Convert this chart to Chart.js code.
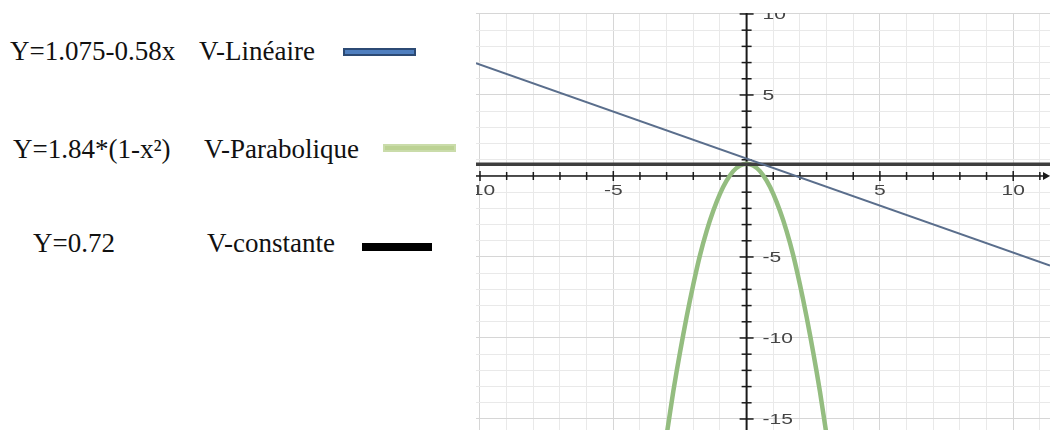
<!DOCTYPE html>
<html lang="fr">
<head>
<meta charset="utf-8">
<title>Profils de vitesse</title>
<script src="https://cdn.jsdelivr.net/npm/chart.js@4.4.1/dist/chart.umd.min.js"></script>
<style>
  html, body { margin: 0; padding: 0; background: #fff; }
  body { width: 1050px; height: 430px; position: relative; overflow: hidden; }
  .eq, .name {
    position: absolute;
    font-family: "Liberation Serif", "DejaVu Serif", serif;
    font-size: 27px;
    color: #111;
    line-height: 1;
    white-space: nowrap;
  }
  .swatch { position: absolute; box-sizing: border-box; }
  #plot { position: absolute; left: 476px; top: 13px; width: 574px; height: 417px; }
</style>
</head>
<body>
<div id="legend"></div>
<div id="plot"><canvas id="chart" width="574" height="417"></canvas></div>

<script>
  // Axis window
  const xMin = -10.15, xMax = 11.38;
  const yMin = -15.68, yMax = 10.06;
  const xLabelValues = [-10, -5, 5, 10];
  const yLabelValues = [10, 5, -5, -10, -15];

  // Series
  const seriesNames = ['V-Linéaire', 'V-Parabolique', 'V-constante'];
  const seriesFormulas = ['Y=1.075-0.58x', 'Y=1.84*(1-x²)', 'Y=0.72'];

  const lineX = [-10.15, 11.38];
  const lineY = [6.96, -5.53];

  const paraX = [-3.05, -3.0, -2.75, -2.5, -2.25, -2.0, -1.75, -1.5, -1.25, -1.0, -0.75, -0.5, -0.25, 0,
                 0.25, 0.5, 0.75, 1.0, 1.25, 1.5, 1.75, 2.0, 2.25, 2.5, 2.75, 3.0, 3.05];
  const paraY = [-16.5, -16.0, -13.3, -10.9, -8.7, -6.7, -4.9, -3.4, -2.15, -1.1, -0.29, 0.3, 0.64, 0.76,
                 0.64, 0.3, -0.29, -1.1, -2.15, -3.4, -4.9, -6.7, -8.7, -10.9, -13.3, -16.0, -16.5];

  const constX = [-10.15, 11.38];
  const constY = [0.72, 0.72];

  const toPoints = (xs, ys) => xs.map((x, i) => ({ x: x, y: ys[i] }));

  // Left-hand legend (formula, name, colour swatch)
  const legendRows = [
    { eqLeft: 10, nameLeft: 199, top: 38, sw: { l: 343, t: 48, w: 73, h: 8, bg: '#4f7fbf', bd: '2px solid #2c4a74' } },
    { eqLeft: 13, nameLeft: 204, top: 136, sw: { l: 383, t: 144, w: 73, h: 8, bg: '#bcd294', bd: '2px solid #cadcaa' } },
    { eqLeft: 33, nameLeft: 207, top: 230, sw: { l: 362, t: 243, w: 70, h: 8, bg: '#000', bd: 'none' } }
  ];

  const legend = document.getElementById('legend');
  legendRows.forEach((row, i) => {
    const eq = document.createElement('div');
    eq.className = 'eq';
    eq.style.left = row.eqLeft + 'px';
    eq.style.top = row.top + 'px';
    eq.textContent = seriesFormulas[i];
    legend.appendChild(eq);

    const name = document.createElement('div');
    name.className = 'name';
    name.style.left = row.nameLeft + 'px';
    name.style.top = row.top + 'px';
    name.textContent = seriesNames[i];
    legend.appendChild(name);

    const sw = document.createElement('div');
    sw.className = 'swatch';
    sw.style.left = row.sw.l + 'px';
    sw.style.top = row.sw.t + 'px';
    sw.style.width = row.sw.w + 'px';
    sw.style.height = row.sw.h + 'px';
    sw.style.background = row.sw.bg;
    sw.style.border = row.sw.bd;
    legend.appendChild(sw);
  });

  // text stretched horizontally, like the rest of the plot
  function wideText(ctx, text, px, py) {
    ctx.save();
    ctx.translate(px, py);
    ctx.scale(1.5, 1);
    ctx.fillText(text, 0, 0);
    ctx.restore();
  }

  // Cartesian axes through the origin, with ticks and labels
  const centerAxes = {
    id: 'centerAxes',
    beforeDatasetsDraw(chart) {
      const { ctx, chartArea: a, scales: { x, y } } = chart;
      const ox = x.getPixelForValue(0);
      const oy = y.getPixelForValue(0);

      ctx.save();
      ctx.beginPath();
      ctx.rect(a.left, a.top, a.right - a.left, a.bottom - a.top);
      ctx.clip();

      ctx.strokeStyle = '#1a1a1a';
      ctx.fillStyle = '#1a1a1a';

      // horizontal axis
      ctx.lineWidth = 1.5;
      ctx.beginPath();
      ctx.moveTo(a.left, oy);
      ctx.lineTo(a.right - 2, oy);
      ctx.stroke();
      ctx.beginPath();
      ctx.moveTo(a.right, oy);
      ctx.lineTo(a.right - 7, oy - 4);
      ctx.lineTo(a.right - 7, oy + 4);
      ctx.closePath();
      ctx.fill();

      x.ticks.forEach(t => {
        if (t.value === 0) return;
        const px = x.getPixelForValue(t.value);
        const len = t.value % 5 === 0 ? 5 : 4;
        ctx.lineWidth = 1.5;
        ctx.beginPath();
        ctx.moveTo(px, oy - len);
        ctx.lineTo(px, oy + len);
        ctx.stroke();
      });

      // vertical axis
      ctx.lineWidth = 2;
      ctx.beginPath();
      ctx.moveTo(ox, a.top);
      ctx.lineTo(ox, a.bottom);
      ctx.stroke();

      y.ticks.forEach(t => {
        if (t.value === 0) return;
        const py = y.getPixelForValue(t.value);
        const len = t.value % 5 === 0 ? 7 : 5;
        ctx.lineWidth = 1.5;
        ctx.beginPath();
        ctx.moveTo(ox - len, py);
        ctx.lineTo(ox + len, py);
        ctx.stroke();
      });

      // labels
      ctx.font = '14px "Liberation Sans", Arial, sans-serif';
      ctx.fillStyle = '#444';
      ctx.textAlign = 'center';
      ctx.textBaseline = 'middle';
      xLabelValues.forEach(v => {
        wideText(ctx, String(v), x.getPixelForValue(v), oy + 15);
      });
      ctx.textAlign = 'left';
      yLabelValues.forEach(v => {
        wideText(ctx, String(v), ox + 16, y.getPixelForValue(v) + 1);
      });

      ctx.restore();
    }
  };

  const gridColor = c => (c.tick && c.tick.value % 5 === 0) ? '#d6d6d6' : '#e9e9e9';

  new Chart(document.getElementById('chart'), {
    type: 'scatter',
    data: {
      datasets: [
        {
          label: seriesNames[0],
          data: toPoints(lineX, lineY),
          showLine: true,
          borderColor: '#5a6e8c',
          borderWidth: 2,
          pointRadius: 0
        },
        {
          label: seriesNames[2],
          data: toPoints(constX, constY),
          showLine: true,
          borderColor: '#3e3e3e',
          borderWidth: 3.5,
          pointRadius: 0
        },
        {
          label: seriesNames[1],
          data: toPoints(paraX, paraY),
          showLine: true,
          tension: 0.3,
          borderColor: '#94bd80',
          borderWidth: 4.5,
          pointRadius: 0
        }
      ]
    },
    options: {
      responsive: false,
      animation: false,
      devicePixelRatio: 1,
      layout: { padding: 0 },
      plugins: {
        legend: { display: false },
        tooltip: { enabled: false }
      },
      scales: {
        x: {
          type: 'linear',
          min: xMin,
          max: xMax,
          ticks: { stepSize: 1, includeBounds: false, display: false },
          grid: { color: gridColor, drawTicks: false, lineWidth: 1 },
          border: { display: false }
        },
        y: {
          type: 'linear',
          min: yMin,
          max: yMax,
          ticks: { stepSize: 1, includeBounds: false, display: false },
          grid: { color: gridColor, drawTicks: false, lineWidth: 1 },
          border: { display: false }
        }
      }
    },
    plugins: [centerAxes]
  });
</script>
</body>
</html>
